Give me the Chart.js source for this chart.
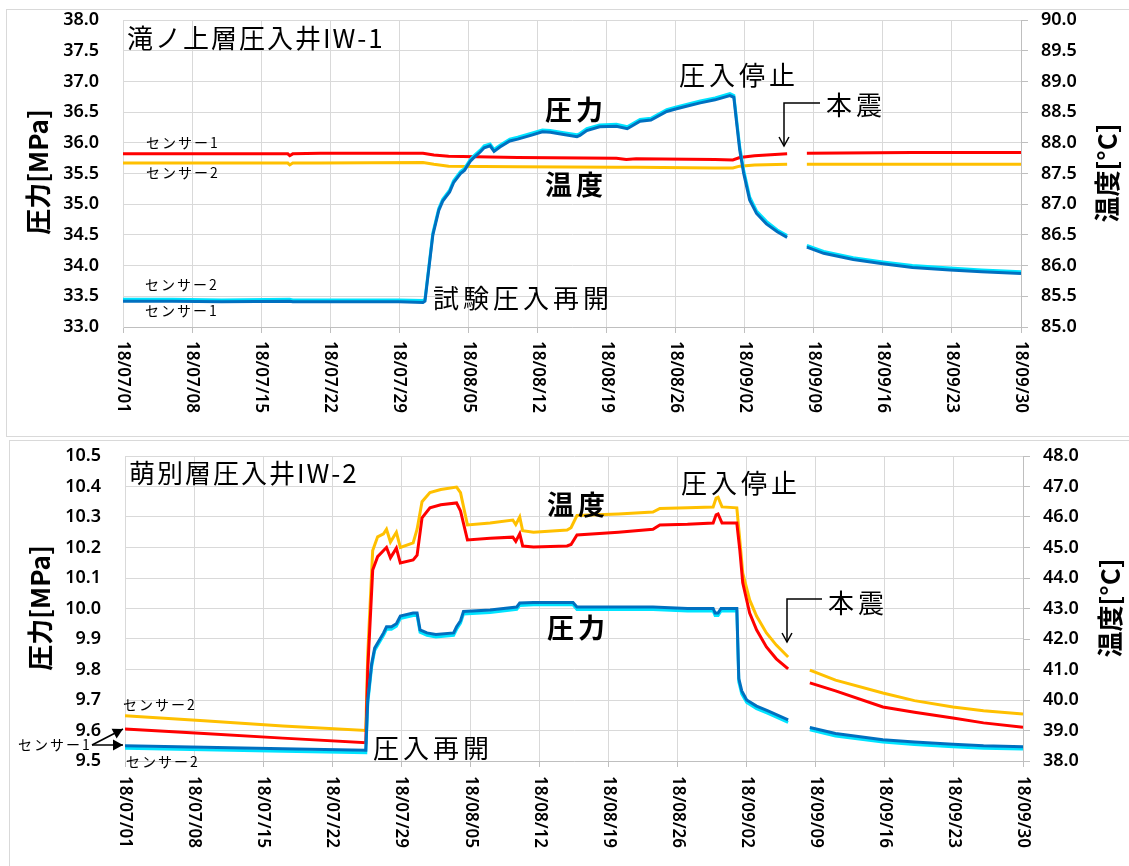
<!DOCTYPE html>
<html>
<head>
<meta charset="utf-8">
<title>IW-1 / IW-2 圧力・温度</title>
<script src="https://cdn.jsdelivr.net/npm/chart.js@4/dist/chart.umd.min.js"></script>
<style>
  body { margin: 0; background: #fff; width: 1129px; height: 866px; position: relative; overflow: hidden; }
  .frame { position: absolute; border: 1px solid #d9d9d9; }
  #frame1 { left: 6px; top: 9px; width: 1140px; height: 426px; }
  #frame2 { left: 9px; top: 440px; width: 1140px; height: 440px; }
  canvas { position: absolute; left: 0; }
  #chart1 { top: 0; }
  #chart2 { top: 437px; }
</style>
</head>
<body>
<div class="frame" id="frame1"></div>
<div class="frame" id="frame2"></div>
<canvas id="chart1" width="1129" height="436"></canvas>
<canvas id="chart2" width="1129" height="429"></canvas>

<script>
// ===== Data (x = days since 18/07/01, null = no record) =====
const tickLabels = ['18/07/01', '18/07/08', '18/07/15', '18/07/22', '18/07/29', '18/08/05', '18/08/12',
  '18/08/19', '18/08/26', '18/09/02', '18/09/09', '18/09/16', '18/09/23', '18/09/30'];

// IW-1 pressure [MPa]
const iw1PressDays = [0, 5, 10, 16.9, 17.2, 22, 28, 30.4, 30.6, 31.4, 32.0, 32.4, 33.1, 33.5, 34.2, 34.6, 35.2, 35.5,
  36.2, 36.6, 37.2, 37.6, 38.2, 39.2, 40.0, 41.5, 42.5, 43.3, 44.5, 46.0, 46.3, 47.0, 48.3, 50.0, 51.1, 52.4, 53.5,
  55.1, 56.0, 57.2, 58.5, 60.0, 61.5, 61.9, 62.2, 62.5, 62.9, 63.5, 64.2, 65.2, 66.3, 67.3, 68.3, 69.3, 71, 74, 77,
  80, 83.8, 87, 91];
const iw1PressS1 = [33.42, 33.42, 33.41, 33.42, 33.41, 33.41, 33.41, 33.40, 33.42, 34.50, 34.90, 35.05, 35.20, 35.35,
  35.50, 35.55, 35.70, 35.75, 35.85, 35.92, 35.95, 35.86, 35.93, 36.03, 36.06, 36.13, 36.18, 36.17, 36.14, 36.10,
  36.12, 36.20, 36.26, 36.27, 36.23, 36.35, 36.37, 36.51, 36.55, 36.60, 36.65, 36.70, 36.77, 36.74, 36.30, 35.88,
  35.50, 35.07, 34.85, 34.68, 34.55, 34.46, null, 34.30, 34.20, 34.10, 34.03, 33.97, 33.93, 33.90, 33.87];
const iw1PressS2 = [33.45, 33.45, 33.44, 33.45, 33.44, 33.44, 33.44, 33.43, 33.45, 34.53, 34.93, 35.08, 35.23, 35.38,
  35.53, 35.58, 35.73, 35.78, 35.88, 35.95, 35.98, 35.89, 35.96, 36.06, 36.09, 36.16, 36.21, 36.20, 36.17, 36.13,
  36.15, 36.23, 36.29, 36.30, 36.26, 36.38, 36.40, 36.54, 36.58, 36.63, 36.68, 36.73, 36.80, 36.77, 36.35, 35.93,
  35.55, 35.12, 34.89, 34.72, 34.58, 34.49, null, 34.33, 34.23, 34.13, 34.06, 34.00, 33.96, 33.93, 33.90];

// IW-1 temperature [°C]
const iw1TempDays = [0, 10, 16.7, 16.9, 17.2, 20, 30.4, 31.5, 33, 40, 50, 51, 52, 60, 61.8, 62.5, 64, 67.3, 68.3, 69.3, 80, 91];
const iw1TempS1 = [87.82, 87.82, 87.82, 87.79, 87.82, 87.83, 87.83, 87.80, 87.78, 87.76, 87.75, 87.73, 87.74, 87.73,
  87.72, 87.76, 87.79, 87.82, null, 87.83, 87.84, 87.84];
const iw1TempS2 = [87.67, 87.67, 87.67, 87.64, 87.67, 87.67, 87.68, 87.65, 87.62, 87.61, 87.60, 87.60, 87.60, 87.59,
  87.59, 87.62, 87.64, 87.65, null, 87.65, 87.65, 87.65];

// IW-2 pressure [MPa]
const iw2PressDays = [0, 8, 16, 24.4, 24.6, 25.0, 25.3, 26.2, 26.5, 27.0, 27.5, 27.9, 29.2, 29.6, 29.9, 30.6, 31.5,
  33.3, 33.6, 34.0, 34.3, 37, 39.7, 40.0, 41.4, 43, 45.4, 45.8, 50, 53.5, 57, 59.6, 59.8, 60.1, 60.4, 62.0, 62.2,
  62.5, 63, 64, 65.1, 67.2, 68.3, 69.4, 72, 76.8, 80, 83.9, 87, 91];
const iw2PressS1 = [9.550, 9.545, 9.540, 9.535, 9.700, 9.820, 9.870, 9.920, 9.940, 9.940, 9.950, 9.975, 9.985, 9.985,
  9.930, 9.920, 9.915, 9.920, 9.940, 9.960, 9.990, 9.995, 10.005, 10.018, 10.020, 10.020, 10.020, 10.005, 10.005,
  10.005, 10.000, 10.000, 9.985, 9.985, 10.000, 10.000, 9.770, 9.730, 9.700, 9.680, 9.665, 9.635, null, 9.610,
  9.590, 9.570, 9.562, 9.555, 9.550, 9.547];
const iw2PressS2 = [9.542, 9.537, 9.532, 9.527, 9.690, 9.810, 9.862, 9.912, 9.932, 9.932, 9.942, 9.967, 9.977, 9.977,
  9.922, 9.912, 9.907, 9.912, 9.932, 9.952, 9.982, 9.987, 9.997, 10.010, 10.012, 10.012, 10.012, 9.997, 9.997,
  9.997, 9.992, 9.992, 9.977, 9.977, 9.992, 9.992, 9.760, 9.720, 9.692, 9.672, 9.657, 9.627, null, 9.602,
  9.582, 9.562, 9.554, 9.547, 9.542, 9.539];

// IW-2 temperature [°C]
const iw2TempDays = [0, 8, 16, 24.4, 24.6, 25.1, 25.6, 26.2, 26.5, 26.9, 27.5, 27.9, 29.2, 29.6, 30.1, 30.9, 32, 33.6,
  34.0, 34.7, 37, 39.3, 39.6, 40.0, 40.3, 41.4, 44.8, 45.2, 45.8, 50, 53.5, 54.2, 57, 59.6, 59.9, 60.1, 60.5, 62.0,
  62.3, 62.6, 63.3, 64, 65, 66, 67.2, 68.3, 69.4, 72, 76.8, 80, 83.9, 87, 91];
const iw2TempS1 = [39.05, 38.90, 38.75, 38.60, 41.00, 44.26, 44.70, 44.90, 45.00, 44.66, 44.98, 44.49, 44.59, 44.75,
  45.97, 46.30, 46.40, 46.46, 46.20, 45.25, 45.30, 45.34, 45.20, 45.45, 45.05, 45.02, 45.05, 45.10, 45.41, 45.50,
  45.60, 45.74, 45.76, 45.80, 46.07, 46.10, 45.80, 45.80, 44.92, 43.84, 42.85, 42.30, 41.74, 41.35, 41.02, null,
  40.56, 40.30, 39.77, 39.60, 39.41, 39.25, 39.11];
const iw2TempS2 = [39.48, 39.32, 39.15, 39.00, 41.50, 44.90, 45.35, 45.45, 45.60, 45.18, 45.50, 45.00, 45.15, 45.60,
  46.50, 46.80, 46.90, 46.98, 46.80, 45.74, 45.80, 45.90, 45.75, 46.00, 45.55, 45.50, 45.57, 45.65, 46.05, 46.10,
  46.16, 46.28, 46.30, 46.33, 46.62, 46.65, 46.33, 46.30, 45.25, 44.16, 43.28, 42.75, 42.20, 41.80, 41.41, null,
  40.98, 40.65, 40.23, 39.98, 39.77, 39.65, 39.54];

// ===== Styles =====
const COLORS = { press1: '#0070c0', press2: '#00e4ff', temp1: '#ff0000', temp2: '#ffc000' };
const GRID = '#d9d9d9';
const JP = '"Noto Sans CJK JP", "Noto Sans", sans-serif';
const NUM = '"Noto Sans", "DejaVu Sans", sans-serif';

// ===== Helpers =====
function points(days, vals) {
  return days.map((d, i) => ({ x: d, y: vals[i] }));
}

function line(label, days, vals, color, axis) {
  return {
    label, data: points(days, vals), yAxisID: axis,
    borderColor: color, borderWidth: 3, pointRadius: 0, tension: 0, spanGaps: false, fill: false
  };
}

function drawArrowHead(ctx, x, y, angle, size, filled) {
  ctx.save();
  ctx.translate(x, y);
  ctx.rotate(angle);
  ctx.beginPath();
  ctx.moveTo(-size, -size * 0.55);
  ctx.lineTo(0, 0);
  ctx.lineTo(-size, size * 0.55);
  if (filled) { ctx.closePath(); ctx.fill(); } else { ctx.stroke(); }
  ctx.restore();
}

// draws the rotated date labels, axis titles and the callouts
const notesPlugin = {
  id: 'notes',
  afterDraw(chart, args, opts) {
    const ctx = chart.ctx;
    const xs = chart.scales.x;
    const area = chart.chartArea;
    ctx.save();
    ctx.fillStyle = '#000';
    ctx.strokeStyle = '#000';

    // x tick labels, rotated clockwise
    ctx.font = `600 17px ${NUM}`;
    ctx.textAlign = 'left';
    ctx.textBaseline = 'middle';
    xs.ticks.forEach((t, i) => {
      ctx.save();
      ctx.translate(xs.getPixelForValue(t.value), area.bottom + opts.labelGap);
      ctx.rotate(Math.PI / 2);
      ctx.fillText(tickLabels[i], 0, 0);
      ctx.restore();
    });

    // axis titles (both read bottom to top)
    ctx.font = `bold 26px ${JP}`;
    ctx.textAlign = 'center';
    opts.axisTitles.forEach(a => {
      ctx.save();
      ctx.translate(a.x, a.y);
      ctx.rotate(-Math.PI / 2);
      ctx.fillText(a.text, 0, 0);
      ctx.restore();
    });

    // text notes
    ctx.textAlign = 'left';
    opts.texts.forEach(n => {
      ctx.font = `${n.bold ? 'bold ' : ''}${n.size}px ${JP}`;
      ctx.letterSpacing = (n.spacing || 0) + 'px';
      ctx.fillText(n.text, n.x, n.y);
    });
    ctx.letterSpacing = '0px';

    // arrows
    ctx.lineWidth = 1.5;
    opts.arrows.forEach(a => {
      ctx.beginPath();
      a.path.forEach((p, i) => i ? ctx.lineTo(p[0], p[1]) : ctx.moveTo(p[0], p[1]));
      ctx.stroke();
      const p1 = a.path[a.path.length - 2], p2 = a.path[a.path.length - 1];
      drawArrowHead(ctx, p2[0], p2[1], Math.atan2(p2[1] - p1[1], p2[0] - p1[0]), a.head, a.filled);
    });
    ctx.restore();
  }
};

function makeChart(canvasId, cfg) {
  const tickFont = { family: NUM, size: 18, weight: '600' };
  // fixed axis sizes so the plot area lands where the original had it
  const fixY = w => s => { s.width = w; s.paddingTop = 0; s.paddingBottom = 0; };
  return new Chart(document.getElementById(canvasId), {
    type: 'line',
    data: {
      datasets: [
        line('圧力 センサー1', cfg.pressDays, cfg.press1, COLORS.press1, 'yP'),
        line('圧力 センサー2', cfg.pressDays, cfg.press2, COLORS.press2, 'yP'),
        line('温度 センサー1', cfg.tempDays, cfg.temp1, COLORS.temp1, 'yT'),
        line('温度 センサー2', cfg.tempDays, cfg.temp2, COLORS.temp2, 'yT')
      ]
    },
    options: {
      responsive: false,
      animation: false,
      layout: { padding: { top: cfg.padTop, left: 0, right: 0, bottom: 0 } },
      plugins: {
        legend: { display: false },
        tooltip: { enabled: false },
        notes: cfg.notes
      },
      scales: {
        x: {
          type: 'linear', min: 0, max: 91,
          ticks: { stepSize: 7, display: false },
          grid: { color: GRID, lineWidth: 1, tickLength: 6, tickColor: '#bfbfbf' },
          border: { color: '#bfbfbf' },
          afterFit: s => { s.height = cfg.xHeight; s.paddingLeft = 0; s.paddingRight = 0; }
        },
        yP: {
          position: 'left', min: cfg.pMin, max: cfg.pMax,
          ticks: { stepSize: cfg.pStep, color: '#000', font: tickFont, padding: 24,
            callback: v => Number(v).toFixed(1) },
          grid: { color: GRID, drawTicks: false },
          border: { color: GRID },
          afterFit: fixY(cfg.leftW)
        },
        yT: {
          position: 'right', min: cfg.tMin, max: cfg.tMax,
          ticks: { stepSize: cfg.tStep, color: '#000', font: tickFont, padding: 13,
            callback: v => Number(v).toFixed(1) },
          grid: { drawOnChartArea: false, tickLength: 7, color: '#bfbfbf' },
          border: { color: '#bfbfbf' },
          afterFit: fixY(cfg.rightW)
        }
      }
    },
    plugins: [notesPlugin]
  });
}

// ===== Charts =====
makeChart('chart1', {
  pressDays: iw1PressDays, press1: iw1PressS1, press2: iw1PressS2,
  tempDays: iw1TempDays, temp1: iw1TempS1, temp2: iw1TempS2,
  pMin: 33, pMax: 38, pStep: 0.5, tMin: 85, tMax: 90, tStep: 0.5,
  padTop: 20, xHeight: 109, leftW: 123, rightW: 108,
  notes: {
    labelGap: 14,
    axisTitles: [
      { text: '圧力[MPa]', x: 38, y: 172 },
      { text: '温度[°C]', x: 1107, y: 173 }
    ],
    texts: [
      { text: '滝ノ上層圧入井IW-1', x: 127, y: 38, size: 26, spacing: 2 },
      { text: 'センサー1', x: 146, y: 143, size: 14, spacing: 2 },
      { text: 'センサー2', x: 146, y: 173, size: 14, spacing: 2 },
      { text: 'センサー2', x: 145, y: 285, size: 14, spacing: 2 },
      { text: 'センサー1', x: 145, y: 311, size: 14, spacing: 2 },
      { text: '試験圧入再開', x: 433, y: 298, size: 26, spacing: 4 },
      { text: '圧力', x: 545, y: 110, size: 27, spacing: 4, bold: true },
      { text: '温度', x: 545, y: 185, size: 27, spacing: 4, bold: true },
      { text: '圧入停止', x: 679, y: 75, size: 26, spacing: 4 },
      { text: '本震', x: 826, y: 105, size: 26, spacing: 4 }
    ],
    arrows: [
      { path: [[820, 103], [784, 103], [784, 146]], head: 9, filled: false }
    ]
  }
});

makeChart('chart2', {
  pressDays: iw2PressDays, press1: iw2PressS1, press2: iw2PressS2,
  tempDays: iw2TempDays, temp1: iw2TempS1, temp2: iw2TempS2,
  pMin: 9.5, pMax: 10.5, pStep: 0.1, tMin: 38, tMax: 48, tStep: 1,
  padTop: 19, xHeight: 105, leftW: 125, rightW: 106,
  notes: {
    labelGap: 15,
    axisTitles: [
      { text: '圧力[MPa]', x: 40, y: 171 },
      { text: '温度[°C]', x: 1110, y: 171 }
    ],
    texts: [
      { text: '萌別層圧入井IW-2', x: 129, y: 36, size: 26, spacing: 2 },
      { text: 'センサー2', x: 123, y: 268, size: 14, spacing: 2 },
      { text: 'センサー1', x: 18, y: 308, size: 14, spacing: 2 },
      { text: 'センサー2', x: 126, y: 325, size: 14, spacing: 2 },
      { text: '圧入再開', x: 373, y: 311, size: 26, spacing: 4 },
      { text: '温度', x: 547, y: 68, size: 27, spacing: 4, bold: true },
      { text: '圧力', x: 547, y: 191, size: 27, spacing: 4, bold: true },
      { text: '圧入停止', x: 681, y: 46, size: 26, spacing: 4 },
      { text: '本震', x: 828, y: 166, size: 26, spacing: 4 }
    ],
    arrows: [
      { path: [[822, 162], [787, 162], [787, 205]], head: 9, filled: false },
      { path: [[92, 308], [123, 292]], head: 10, filled: true },
      { path: [[92, 308], [123, 308]], head: 10, filled: true }
    ]
  }
});
</script>
</body>
</html>
